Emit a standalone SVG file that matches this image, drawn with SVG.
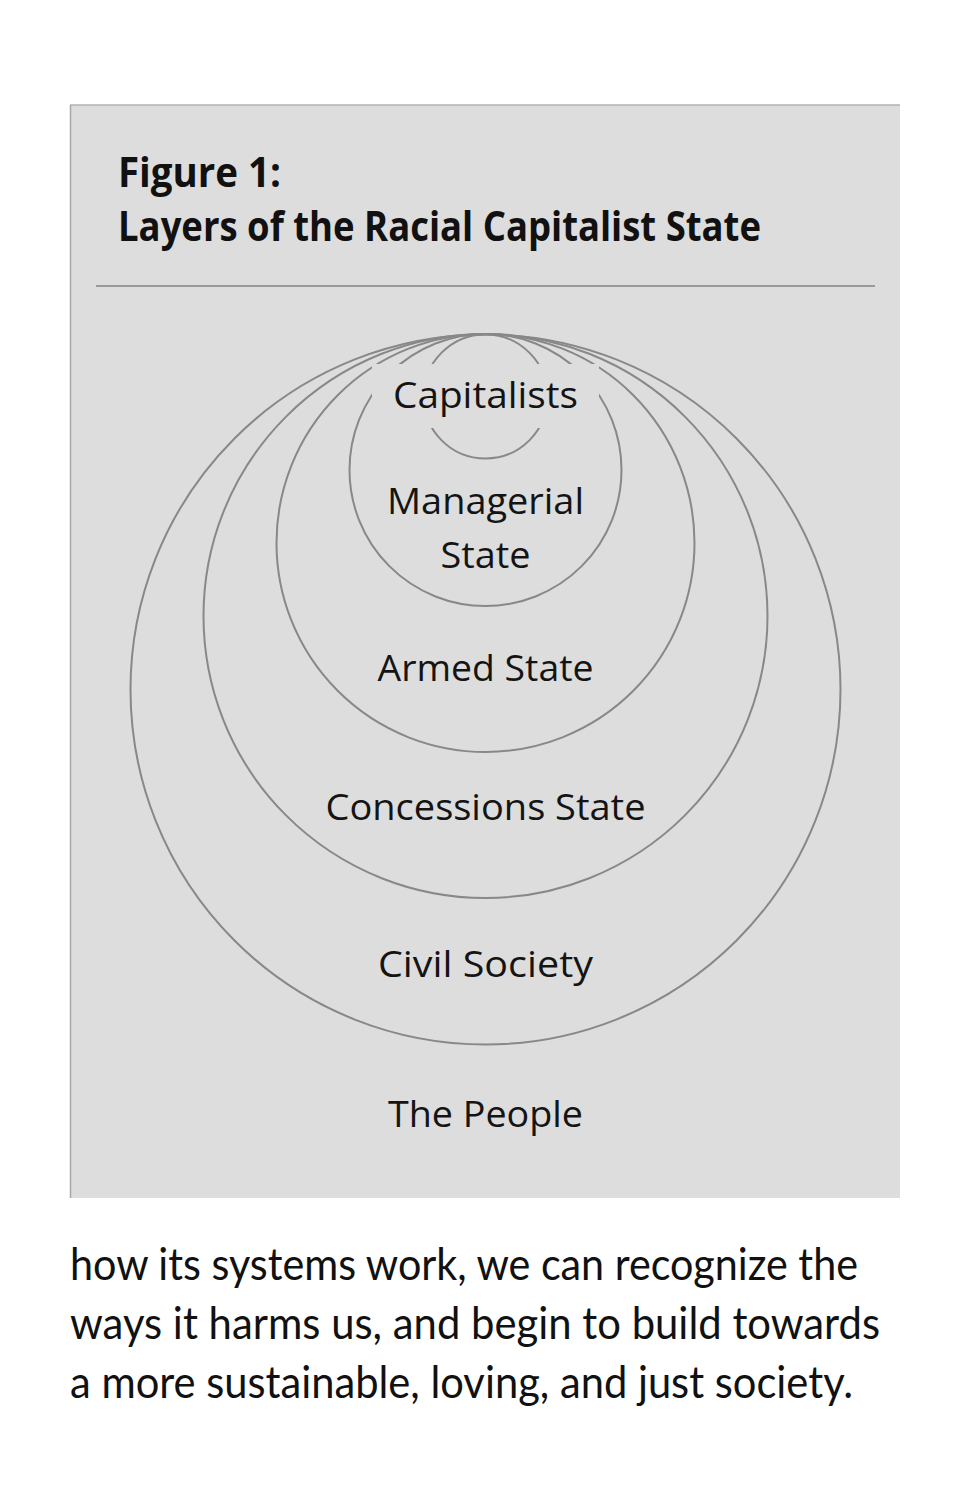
<svg xmlns="http://www.w3.org/2000/svg" width="971" height="1500" viewBox="0 0 971 1500">
  <style>
    .ring { fill: none; stroke: #888888; stroke-width: 2; }
    .lbl { font-family: "Open Sans", "Noto Sans", "DejaVu Sans", sans-serif; font-size: 37px; fill: #141414; text-anchor: middle; }
    .title { font-family: "Open Sans", "Noto Sans", sans-serif; font-weight: bold; font-size: 41px; fill: #111; }
    .body { font-family: Lato, "Open Sans", sans-serif; font-size: 44px; fill: #111; }
  </style>
  <rect x="0" y="0" width="971" height="1500" fill="#ffffff"/>
  <g id="panel">
    <rect x="70" y="105" width="830" height="1093" fill="#dddddd"/>
    <line x1="70" y1="105" x2="900" y2="105" stroke="#b0b0b0" stroke-width="1.5"/>
    <line x1="70.5" y1="105" x2="70.5" y2="1198" stroke="#a8a8a8" stroke-width="1.5"/>
  </g>
  <g id="title">
    <text class="title" x="118" y="187" textLength="163" lengthAdjust="spacingAndGlyphs">Figure 1:</text>
    <text class="title" x="118" y="241" textLength="643" lengthAdjust="spacingAndGlyphs">Layers of the Racial Capitalist State</text>
  </g>
  <line id="rule" x1="96" y1="286" x2="875" y2="286" stroke="#9a9a9a" stroke-width="2"/>
  <g id="rings">
    <circle id="ring-civil" class="ring" cx="485.5" cy="689.5" r="355"/>
    <circle id="ring-concessions" class="ring" cx="485.5" cy="616" r="282"/>
    <circle id="ring-armed" class="ring" cx="485.5" cy="543" r="209"/>
    <circle id="ring-managerial" class="ring" cx="485.5" cy="470" r="136"/>
    <circle id="ring-capitalists" class="ring" cx="485.5" cy="396.5" r="62"/>
    <rect x="372" y="364" width="227" height="64" fill="#dddddd"/>
  </g>
  <g id="node-capitalists"><text class="lbl" x="485.5" y="408" textLength="185" lengthAdjust="spacingAndGlyphs">Capitalists</text></g>
  <g id="node-managerial">
    <text class="lbl" x="485.5" y="514" textLength="197" lengthAdjust="spacingAndGlyphs">Managerial</text>
    <text class="lbl" x="485.5" y="568" textLength="90" lengthAdjust="spacingAndGlyphs">State</text>
  </g>
  <g id="node-armed"><text class="lbl" x="485.5" y="681" textLength="216" lengthAdjust="spacingAndGlyphs">Armed State</text></g>
  <g id="node-concessions"><text class="lbl" x="485.5" y="820" textLength="320" lengthAdjust="spacingAndGlyphs">Concessions State</text></g>
  <g id="node-civil"><text class="lbl" x="485.5" y="977" textLength="215" lengthAdjust="spacingAndGlyphs">Civil Society</text></g>
  <g id="node-people"><text class="lbl" x="485.5" y="1127" textLength="195" lengthAdjust="spacingAndGlyphs">The People</text></g>
  <g id="body-text">
    <text class="body" x="70" y="1280" textLength="788" lengthAdjust="spacingAndGlyphs">how its systems work, we can recognize the</text>
    <text class="body" x="70" y="1339" textLength="810" lengthAdjust="spacingAndGlyphs">ways it harms us, and begin to build towards</text>
    <text class="body" x="70" y="1398" textLength="783" lengthAdjust="spacingAndGlyphs">a more sustainable, loving, and just society.</text>
  </g>
</svg>
